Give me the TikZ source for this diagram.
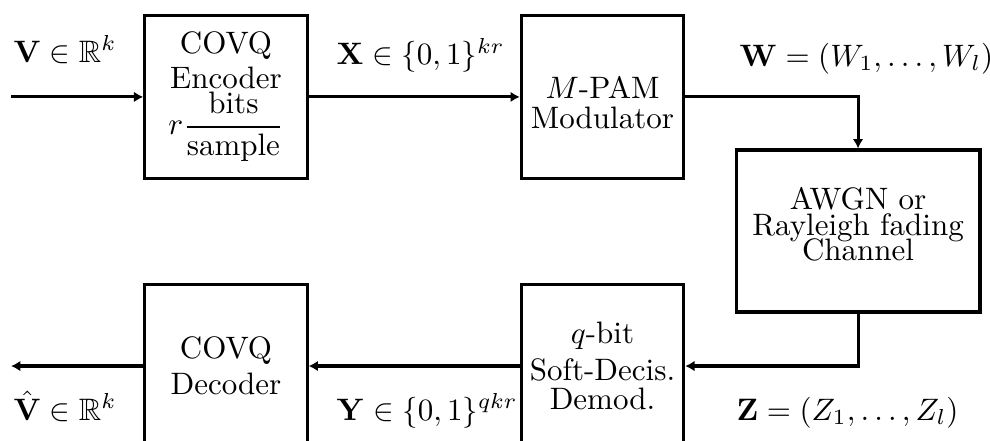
\documentclass[tikz,border=0pt]{standalone}
\usepackage{amsmath}
\usepackage{amssymb}
\usetikzlibrary{arrows.meta}

\begin{document}
\begin{tikzpicture}[>={Latex[length=3pt,width=3.4pt]}, line width=1pt,
  block/.style={draw, line width=1pt, minimum width=1.84cm, minimum height=1.85cm, align=center, inner sep=0pt},
  sig/.style={inner sep=0pt, anchor=base west}]

\useasboundingbox (0,0) rectangle (11.224,4.989);

% blocks
\node[block] (enc) at (2.562,3.89) {COVQ\\[-0.7pt] Encoder\\ $r\dfrac{\text{bits}}{\text{sample}}$};
\node[block, text height=20.3pt] (mod) at (6.831,3.89) {$M$-PAM\\[-2.5pt] Modulator};
\node[block, minimum width=2.766cm, minimum height=1.837cm, text depth=4.5pt] (chan) at (9.728,2.37) {AWGN or\\[-3.7pt] Rayleigh fading\\[-3.7pt] Channel};
\node[block] (demod) at (6.831,0.839) {$q$-bit\\ Soft-Decis.\\[-2.6pt] Demod.};
\node[block] (dec) at (2.562,0.839) {COVQ\\[-0.4pt] Decoder};

\coordinate (in) at (0.125,3.89);
\coordinate (out) at (0.125,0.839);

% connectors
\draw[->] (in) -- (enc);
\draw[->] (enc) -- (mod);
\draw[->] (mod) -| (chan);
\draw[->] (chan) |- (demod);
\draw[->] (demod) -- (dec);
\draw[->] (dec) -- (out);

% signal labels
\node[sig] (vlbl) at (0.136,4.286) {$\mathbf{V}\in\mathbb{R}^k$};
\node[sig] (xlbl) at (3.798,4.252) {$\mathbf{X}\in\{0,1\}^{kr}$};
\node[sig] (wlbl) at (8.367,4.24) {$\mathbf{W}=(W_1,\dots,W_l)$};
\node[sig] (vhlbl) at (0.136,0.227) {$\hat{\mathbf{V}}\in\mathbb{R}^k$};
\node[sig] (ylbl) at (3.798,0.227) {$\mathbf{Y}\in\{0,1\}^{qkr}$};
\node[sig] (zlbl) at (8.333,0.227) {$\mathbf{Z}=(Z_1,\dots,Z_l)$};

\end{tikzpicture}
\end{document}
